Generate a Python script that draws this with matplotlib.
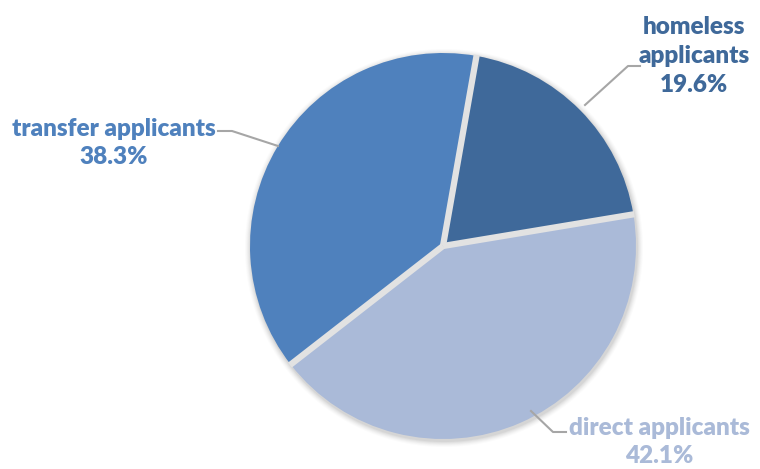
import numpy as np
import matplotlib
matplotlib.use("Agg")
import matplotlib.pyplot as plt

# Applicant shares (percent)
categories = ["homeless applicants", "direct applicants", "transfer applicants"]
shares = [19.6, 42.1, 38.3]
slice_colors = ["#3F699A", "#AABAD8", "#4F81BD"]
label_colors = ["#3F699A", "#AABAD8", "#4F81BD"]

W, H = 760, 469
fig = plt.figure(figsize=(W / 100, H / 100), dpi=100)
ax = fig.add_axes([0, 0, 1, 1])

cx, cy, r = 443, H - 246, 193
start = 80

# soft shadow around the pie
for k, a in zip(range(6, 0, -1), [0.03, 0.04, 0.05, 0.06, 0.08, 0.10]):
    ax.add_patch(plt.Circle((cx + 1, cy - 2), r + k, color="#808080", alpha=a, lw=0))

wedges, _ = ax.pie(
    shares,
    colors=slice_colors,
    startangle=start,
    counterclock=False,
    center=(cx, cy),
    radius=r,
    frame=True,
    wedgeprops=dict(edgecolor="none"),
)

# light separators between slices
angles = start - 360 * np.cumsum([0] + shares[:-1]) / 100.0
for ang in angles:
    t = np.deg2rad(ang)
    ax.plot([cx, cx + (r + 1) * np.cos(t)], [cy, cy + (r + 1) * np.sin(t)],
            color="#E2E2E2", linewidth=4.5, solid_capstyle="butt")

ax.set_xlim(0, W)
ax.set_ylim(0, H)
ax.set_aspect("equal")
ax.axis("off")

font = dict(family=["Lato", "DejaVu Sans"], fontweight="heavy", fontsize=17.5)
line_kw = dict(color="#A6A6A6", linewidth=1.5)

# homeless applicants
ax.plot([585, 628, 640], [H - 105, H - 66, H - 66], **line_kw)
ax.text(694, H - 56, f"homeless\napplicants\n{shares[0]}%", color=label_colors[0],
        ha="center", va="center", linespacing=1.4, **font)

# transfer applicants
ax.plot([278, 232, 218], [H - 146, H - 131, H - 131], **line_kw)
ax.text(114, H - 143, f"{categories[2]}\n{shares[2]}%", color=label_colors[2],
        ha="center", va="center", linespacing=1.35, **font)

# direct applicants
ax.plot([531, 553, 566], [H - 411, H - 432, H - 432], **line_kw)
ax.text(659, H - 442, f"{categories[1]}\n{shares[1]}%", color=label_colors[1],
        ha="center", va="center", linespacing=1.35, **font)

fig.savefig("out.png", dpi=100, facecolor="white")
